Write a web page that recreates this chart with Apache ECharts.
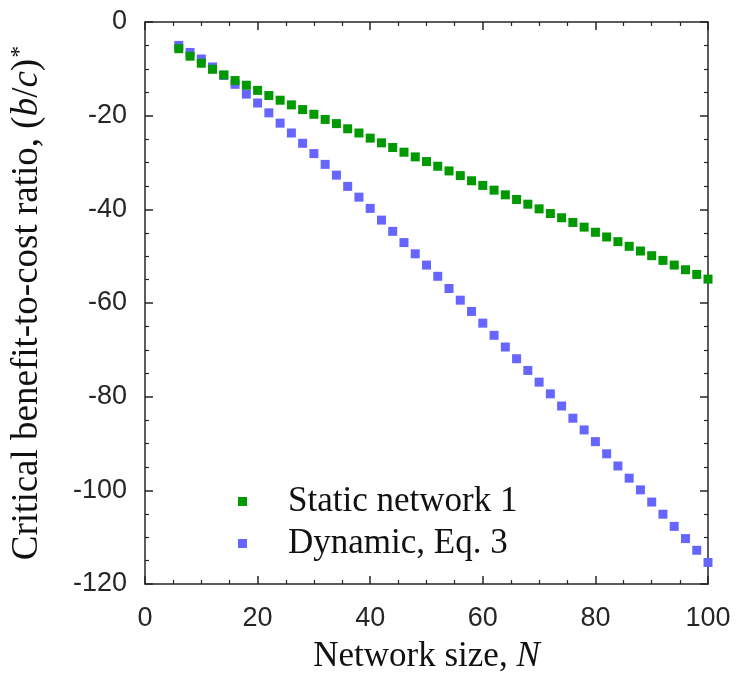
<!DOCTYPE html>
<html><head><meta charset="utf-8">
<script src="https://cdn.jsdelivr.net/npm/echarts@6/dist/echarts.min.js"></script>
<style>html,body{margin:0;padding:0;background:#fff}#c{width:736px;height:679px}</style>
</head><body><div id="c"></div>
<script>
const networkSize = [6,8,10,12,14,16,18,20,22,24,26,28,30,32,34,36,38,40,42,44,46,48,50,52,54,56,58,60,62,64,66,68,70,72,74,76,78,80,82,84,86,88,90,92,94,96,98,100];
const staticNetwork1 = [-5.7,-7.3,-8.8,-10.1,-11.3,-12.5,-13.5,-14.6,-15.7,-16.7,-17.7,-18.7,-19.7,-20.8,-21.7,-22.8,-23.7,-24.8,-25.8,-26.8,-27.8,-28.8,-29.8,-30.8,-31.8,-32.8,-33.9,-34.9,-35.9,-36.9,-37.9,-38.9,-39.9,-40.9,-41.8,-42.8,-43.8,-44.9,-45.9,-46.9,-47.9,-48.9,-49.9,-50.9,-51.9,-52.9,-53.9,-54.9];
const dynamicEq3 = [-5.0,-6.5,-7.9,-9.6,-11.4,-13.3,-15.4,-17.3,-19.4,-21.6,-23.7,-25.9,-28.1,-30.4,-32.7,-35.1,-37.4,-39.8,-42.3,-44.7,-47.1,-49.5,-51.9,-54.3,-56.9,-59.4,-61.8,-64.3,-66.9,-69.4,-71.9,-74.4,-76.9,-79.4,-82.0,-84.6,-87.1,-89.6,-92.2,-94.8,-97.4,-99.9,-102.5,-105.1,-107.7,-110.3,-112.8,-115.4];
const xTicks = [0,20,40,60,80,100];
const yTicks = [-120,-100,-80,-60,-40,-20,0];
const seriesNames = ['Static network 1','Dynamic, Eq. 3'];

const axisColor = '#262626';
const serif = '"Liberation Serif", "Times New Roman", serif';
const sans = '"Liberation Sans", Arial, sans-serif';

function pairs(xs, ys){ return xs.map((x,i)=>[x,ys[i]]); }

const commonAxis = {
  axisLine:{show:true,onZero:false,lineStyle:{color:axisColor,width:1.5}},
  axisTick:{show:true,inside:true,length:8,lineStyle:{color:axisColor,width:1.5}},
  minorTick:{show:true,splitNumber:4,length:4,lineStyle:{color:axisColor,width:1.2}},
  splitLine:{show:false}
};

const chart = echarts.init(document.getElementById('c'),null,{renderer:'canvas'});
chart.setOption({
  animation:false,
  backgroundColor:'#fff',
  grid:{left:143,right:28,top:22,bottom:94,containLabel:false},
  legend:{
    data:seriesNames, orient:'vertical', left:233, top:479,
    icon:'rect', itemWidth:9, itemHeight:9, itemGap:7,
    textStyle:{fontFamily:serif,fontSize:35,color:'#111',lineHeight:35,padding:[0,0,0,36]}
  },
  xAxis:[
    Object.assign({},commonAxis,{type:'value',min:xTicks[0],max:xTicks[xTicks.length-1],interval:20,position:'bottom',
      axisLabel:{show:true,fontFamily:sans,fontSize:27,color:axisColor,margin:21},
      name:'{r|Network size, }{i|N}',nameLocation:'middle',nameGap:55,
      nameTextStyle:{rich:{r:{fontFamily:serif,fontSize:35,color:'#111'},i:{fontFamily:serif,fontStyle:'italic',fontSize:35,color:'#111'}}}}),
    Object.assign({},commonAxis,{type:'value',min:0,max:100,interval:20,position:'top',axisLabel:{show:false}})
  ],
  yAxis:[
    Object.assign({},commonAxis,{type:'value',min:yTicks[0],max:yTicks[yTicks.length-1],interval:20,position:'left',
      axisLabel:{show:true,fontFamily:sans,fontSize:27,color:axisColor,margin:18},
      name:'{r|Critical benefit-to-cost ratio, (}{i|b}{r|/}{i|c}{r|)}{s|*}',nameLocation:'middle',nameGap:99,nameRotate:90,
      nameTextStyle:{rich:{
        r:{fontFamily:serif,fontSize:37,color:'#111'},
        i:{fontFamily:serif,fontStyle:'italic',fontSize:37,color:'#111'},
        s:{fontFamily:serif,fontSize:24,color:'#111',verticalAlign:'top',padding:[0,0,14,1]}
      }}}),
    Object.assign({},commonAxis,{type:'value',min:-120,max:0,interval:20,position:'right',axisLabel:{show:false}})
  ],
  series:[
    {name:seriesNames[1],type:'scatter',symbol:'rect',symbolSize:9,data:pairs(networkSize,dynamicEq3),
      itemStyle:{color:'#6666ff',opacity:1},xAxisIndex:0,yAxisIndex:0},
    {name:seriesNames[0],type:'scatter',symbol:'rect',symbolSize:9,data:pairs(networkSize,staticNetwork1),
      itemStyle:{color:'#009900',opacity:1},xAxisIndex:0,yAxisIndex:0}
  ]
});
</script></body></html>
